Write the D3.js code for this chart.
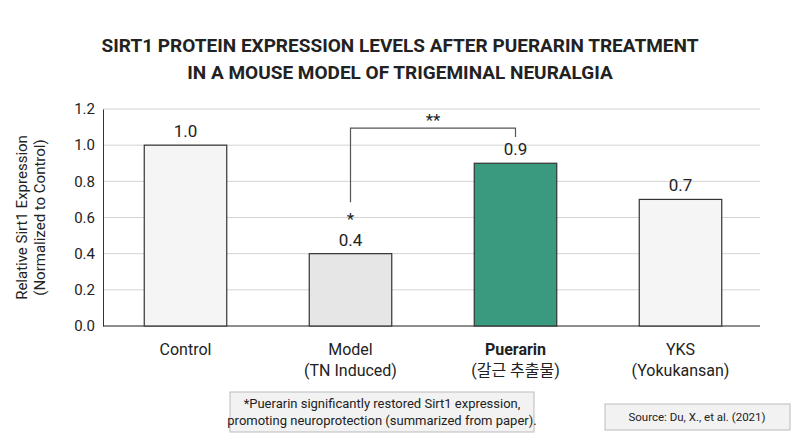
<!DOCTYPE html>
<html><head><meta charset="utf-8">
<script src="https://cdn.jsdelivr.net/npm/d3@7"></script>
<style>body{margin:0;background:#fff;font-family:Roboto,"Noto Sans CJK KR",sans-serif;}</style>
</head><body><div id="chart"></div>
<script>
// data
let categories = ["Control", "Model", "Puerarin", "YKS"];
let subLabels = ["", "(TN Induced)", "(갈근 추출물)", "(Yokukansan)"];
let values = [1.0, 0.4, 0.9, 0.7];
let yTicks = [0, 0.2, 0.4, 0.6, 0.8, 1.0, 1.2];

let svgWidth = 800, svgHeight = 436;
let margin = {top: 109, left: 103, right: 60, bottom: 110};
let width = svgWidth - margin.left - margin.right;
let height = svgHeight - margin.top - margin.bottom;

let svg = d3.select("#chart").append("svg")
    .attr("width", svgWidth).attr("height", svgHeight);

// title
svg.append("text").attr("x", 400).attr("y", 52).attr("text-anchor", "middle")
    .attr("font-size", 19).attr("font-weight", "bold").attr("fill", "#222")
    .text("SIRT1 PROTEIN EXPRESSION LEVELS AFTER PUERARIN TREATMENT");
svg.append("text").attr("x", 400).attr("y", 79).attr("text-anchor", "middle")
    .attr("font-size", 19).attr("font-weight", "bold").attr("fill", "#222")
    .text("IN A MOUSE MODEL OF TRIGEMINAL NEURALGIA");

let g = svg.append("g").attr("transform", `translate(${margin.left},${margin.top})`);

let x = d3.scaleBand().domain(categories).range([0, 660]).paddingInner(0.5).paddingOuter(0.25);
let y = d3.scaleLinear().domain([0, 1.2]).range([height, 0]);

// grid
g.selectAll(".grid").data(yTicks).enter().append("line")
    .attr("x1", 0).attr("x2", width + 20)
    .attr("y1", d => y(d)).attr("y2", d => y(d))
    .attr("stroke", "#d4d4d4").attr("stroke-width", 1);

let yAxis = g.append("g").call(d3.axisLeft(y).tickValues(yTicks).tickFormat(d3.format(".1f")).tickSize(0).tickPadding(8));
yAxis.select(".domain").attr("stroke", "#333");
yAxis.selectAll("text").attr("font-size", 15).attr("fill", "#222").attr("font-family", "Roboto");
g.append("line").attr("x1", 0).attr("x2", width + 20).attr("y1", height).attr("y2", height).attr("stroke", "#333");

g.append("text").attr("transform", "rotate(-90)").attr("x", -height / 2).attr("y", -76)
    .attr("text-anchor", "middle").attr("font-size", 15).attr("fill", "#222")
    .text("Relative Sirt1 Expression");
g.append("text").attr("transform", "rotate(-90)").attr("x", -height / 2).attr("y", -58)
    .attr("text-anchor", "middle").attr("font-size", 15).attr("fill", "#222")
    .text("(Normalized to Control)");

let fills = ["#f5f5f5", "#e6e6e6", "#3a9a80", "#f5f5f5"];
g.selectAll(".bar").data(values).enter().append("rect")
    .attr("x", (d, i) => x(categories[i])).attr("width", x.bandwidth())
    .attr("y", d => y(d)).attr("height", d => height - y(d))
    .attr("fill", (d, i) => fills[i]).attr("stroke", "#333").attr("stroke-width", 1.2);

g.selectAll(".val").data(values).enter().append("text")
    .attr("x", (d, i) => x(categories[i]) + x.bandwidth() / 2)
    .attr("y", d => y(d) - 8).attr("text-anchor", "middle")
    .attr("font-size", 17).attr("fill", "#222")
    .text(d => d.toFixed(1));

g.selectAll(".cat").data(categories).enter().append("text")
    .attr("x", d => x(d) + x.bandwidth() / 2).attr("y", height + 29)
    .attr("text-anchor", "middle").attr("font-size", 16).attr("fill", "#222")
    .attr("font-weight", d => d === "Puerarin" ? "bold" : "normal")
    .text(d => d);
g.selectAll(".sub").data(subLabels).enter().append("text")
    .attr("x", (d, i) => x(categories[i]) + x.bandwidth() / 2).attr("y", height + 50)
    .attr("text-anchor", "middle").attr("font-size", 16).attr("fill", "#222")
    .text(d => d);

// significance bracket
let mx = x("Model") + x.bandwidth() / 2, px = x("Puerarin") + x.bandwidth() / 2;
let bTop = y(1.1) + 1;
g.append("path")
    .attr("d", `M${mx},${y(0.685)}V${bTop}H${px}V${bTop + 9}`)
    .attr("fill", "none").attr("stroke", "#555").attr("stroke-width", 1.2);
g.append("text").attr("x", (mx + px) / 2).attr("y", bTop - 2).attr("text-anchor", "middle")
    .attr("font-size", 17).attr("fill", "#222").text("**");
g.append("text").attr("x", mx).attr("y", y(0.56)).attr("text-anchor", "middle")
    .attr("font-size", 17).attr("fill", "#222").text("*");

// footnote
svg.append("rect").attr("x", 230).attr("y", 392).attr("width", 304).attr("height", 40)
    .attr("fill", "#f2f2f2").attr("stroke", "#bbb");
svg.append("text").attr("x", 382).attr("y", 408).attr("text-anchor", "middle")
    .attr("font-size", 13).attr("fill", "#222").text("*Puerarin significantly restored Sirt1 expression,");
svg.append("text").attr("x", 382).attr("y", 425).attr("text-anchor", "middle")
    .attr("font-size", 13).attr("fill", "#222").text("promoting neuroprotection (summarized from paper).");

svg.append("rect").attr("x", 605).attr("y", 404).attr("width", 185).attr("height", 26)
    .attr("fill", "#f2f2f2").attr("stroke", "#bbb");
svg.append("text").attr("x", 697).attr("y", 421).attr("text-anchor", "middle")
    .attr("font-size", 11.5).attr("fill", "#222").text("Source: Du, X., et al. (2021)");
</script></body></html>
